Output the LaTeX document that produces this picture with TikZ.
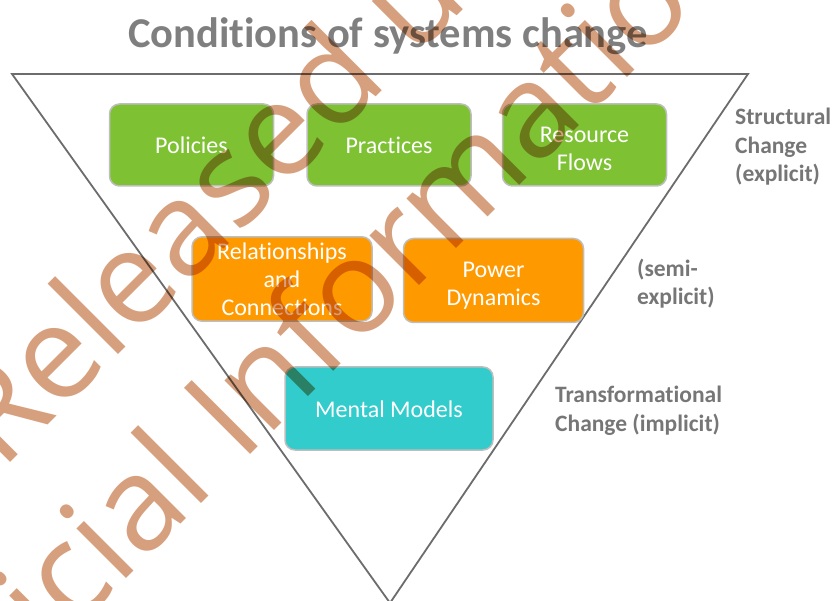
\documentclass[tikz,border=0pt]{standalone}
\usepackage{fontspec}
\setmainfont{Carlito}[Ligatures=NoCommon]
\newfontfamily\wmfont{Open Sans}
\usetikzlibrary{positioning}

\definecolor{condgreen}{RGB}{126,194,52}
\definecolor{condorange}{RGB}{255,153,0}
\definecolor{condteal}{RGB}{51,204,204}
\definecolor{condedge}{RGB}{190,190,190}
\definecolor{condline}{RGB}{108,108,108}
\definecolor{condtitle}{RGB}{127,127,127}
\definecolor{condlabel}{RGB}{118,118,118}
\definecolor{wmark}{RGB}{214,160,126}

% pushes the text of a box down a little
\newcommand{\textdrop}[1]{\rule{0pt}{#1}}

\tikzset{
  cond/.style={draw=condedge, line width=1.5pt, rounded corners=10pt, text=white, align=center,
    minimum height=82pt, inner sep=0pt, font=\fontsize{24}{28}\selectfont,
    execute at begin node=\rule{0pt}{22.6pt}, execute at end node=\rule[-5.4pt]{0pt}{5.4pt}},
  greenbox/.style={cond, fill=condgreen, minimum width=164pt},
  orangebox/.style={cond, fill=condorange, minimum width=180pt, minimum height=84pt},
  tealbox/.style={cond, fill=condteal, minimum width=208pt, minimum height=83pt},
  levellabel/.style={text=condlabel, align=left, anchor=base west, inner sep=0pt,
    font=\fontsize{23.5}{28.5}\selectfont\bfseries},
  watermark/.style={text=wmark, rotate=45, anchor=base west, inner sep=0pt,
    font=\wmfont\fontsize{131}{131}\selectfont}
}

\begin{document}
\begin{tikzpicture}[x=1pt,y=-1pt]
\useasboundingbox (0,0) rectangle (835,601);
\clip (0,0) rectangle (835,601);

% title
\node[text=condtitle, font=\fontsize{42.5}{48}\selectfont\bfseries, anchor=base] (title) at (388,48) {Conditions of systems change};

% funnel
\coordinate (tl) at (12,74);
\coordinate (tr) at (748,74);
\coordinate (apex) at (390,603);
\draw[condline, line width=1.8pt, line join=miter] (tl) -- (tr) -- (apex) -- cycle;

% structural level
\node[greenbox] (policies) at (191.5,145) {Policies};
\node[greenbox, right=32pt of policies] (practices) {Practices};
\node[greenbox, right=30pt of practices] (flows) {\textdrop{28pt}Resource\\Flows};

% semi-explicit level
\node[orangebox] (relations) at (282,279) {\textdrop{23pt}Relationships\\and\\Connections};
\node[orangebox, right=30pt of relations, yshift=-1.5pt] (power) {\textdrop{27pt}Power\\Dynamics};

% transformational level
\node[tealbox] (mental) at (389,408.5) {Mental Models};

% level labels
\node[levellabel] (structural) at (735,182) {Structural\\Change\\(explicit)};
\node[levellabel] (semi) at (637,305) {(semi-\\explicit)};
\node[levellabel] (transform) at (555,431) {Transformational\\Change (implicit)};

% watermark
\begin{scope}[blend mode=multiply]
\node[watermark] (wmline1) at (1,472) {Released under the};
\node[watermark] (wmline2) at (-84,789) {Official Information Act 1982};
\end{scope}
\end{tikzpicture}
\end{document}
